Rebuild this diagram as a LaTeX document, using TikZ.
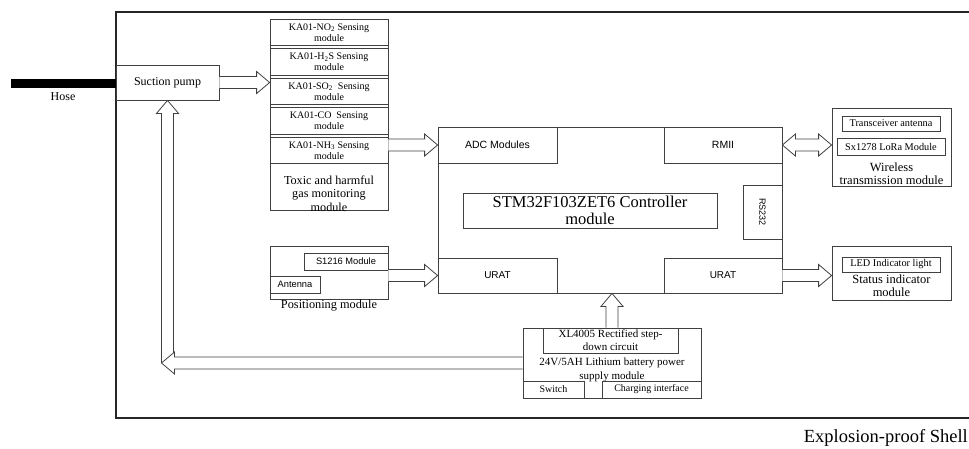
\documentclass[tikz,border=0pt]{standalone}
\usepackage{fontspec}
\setmainfont{Liberation Serif}
\setsansfont{Liberation Sans}
\usetikzlibrary{calc}

\tikzset{
  box/.style={draw=black!75, line width=0.8pt, inner sep=1pt, align=center},
  lbl/.style={inner sep=0pt, align=center},
  hollow/.style={draw=black!75, line width=0.8pt, fill=white, line join=miter},
  shell/.style={draw=black!85, line width=1.6pt},
}
% sizes of the hollow block arrows
\newcommand{\arrshaft}{6pt}
\newcommand{\arrwing}{11pt}
\newcommand{\arrhead}{13pt}
% hollow block arrow from #1 to #2
\newcommand{\blockarrow}[2]{%
  \coordinate (ba-s) at (#1);
  \coordinate (ba-e) at (#2);
  \coordinate (ba-b) at ($(ba-e)!\arrhead!(ba-s)$);
  \draw[hollow] ($(ba-s)!\arrshaft!90:(ba-e)$) -- ($(ba-b)!\arrshaft!90:(ba-e)$)
    -- ($(ba-b)!\arrwing!90:(ba-e)$) -- (ba-e)
    -- ($(ba-b)!\arrwing!-90:(ba-e)$) -- ($(ba-b)!\arrshaft!-90:(ba-e)$)
    -- ($(ba-s)!\arrshaft!-90:(ba-e)$);
}
% hollow block arrow with heads at both ends
\newcommand{\dblockarrow}[2]{%
  \coordinate (ba-s) at (#1);
  \coordinate (ba-e) at (#2);
  \coordinate (ba-b) at ($(ba-e)!\arrhead!(ba-s)$);
  \coordinate (ba-a) at ($(ba-s)!\arrhead!(ba-e)$);
  \draw[hollow] (ba-s) -- ($(ba-a)!\arrwing!90:(ba-e)$) -- ($(ba-a)!\arrshaft!90:(ba-e)$)
    -- ($(ba-b)!\arrshaft!90:(ba-e)$) -- ($(ba-b)!\arrwing!90:(ba-e)$) -- (ba-e)
    -- ($(ba-b)!\arrwing!-90:(ba-e)$) -- ($(ba-b)!\arrshaft!-90:(ba-e)$)
    -- ($(ba-a)!\arrshaft!-90:(ba-e)$) -- ($(ba-a)!\arrwing!-90:(ba-e)$) -- cycle;
}

\begin{document}
\begin{tikzpicture}[x=1pt,y=1pt,yscale=-1,xscale=1]
  \useasboundingbox (0,0) rectangle (969,448);

  %Explosion-proof shell
  \draw[shell] (969,12) -- (116,12) -- (116,418) -- (969,418);
  \node[lbl, anchor=east, font=\fontsize{18.5}{20}\selectfont] (shelllbl) at (968,438) {Explosion-proof Shell};

  %Hose and pump
  \node[fill=black, inner sep=0pt, minimum width=105, minimum height=9] (hose) at (63.5,83.5) {};
  \node[lbl, font=\fontsize{12}{14}\selectfont] (hoselbl) at (63,96.5) {Hose};
  \node[box, minimum width=103, minimum height=35, font=\fontsize{12}{14}\selectfont] (pump) at (167.5,82.5) {Suction pump};

  %Gas sensing group
  \node[box, minimum width=118, minimum height=191] (gas) at (329,114.5) {};
  \node[box, minimum width=118, minimum height=26.5, font=\fontsize{10}{11}\selectfont] (no2) at (329,32.25) {KA01-NO\textsubscript{2} Sensing\\module};
  \node[box, minimum width=118, minimum height=26.5, font=\fontsize{10}{11}\selectfont] (h2s) at (329,61.75) {KA01-H\textsubscript{2}S Sensing\\module};
  \node[box, minimum width=118, minimum height=26.5, font=\fontsize{10}{11}\selectfont] (so2) at (329,91.25) {KA01-SO\textsubscript{2}\ \ Sensing\\module};
  \node[box, minimum width=118, minimum height=26.5, font=\fontsize{10}{11}\selectfont] (co) at (329,120.75) {KA01-CO\ \ Sensing\\module};
  \node[box, minimum width=118, minimum height=26.5, font=\fontsize{10}{11}\selectfont] (nh3) at (329,150.25) {KA01-NH\textsubscript{3} Sensing\\module};
  \node[lbl, font=\fontsize{12.2}{13.5}\selectfont] (gaslbl) at (329,193.5) {Toxic and harmful\\gas monitoring\\module};

  %Controller
  \node[box, minimum width=344, minimum height=166] (ctrl) at (610,210) {};
  \node[box, minimum width=119, minimum height=36, font=\sffamily\fontsize{10.5}{12}\selectfont] (adc) at (497.5,145) {ADC Modules};
  \node[box, minimum width=118, minimum height=36, font=\sffamily\fontsize{10.5}{12}\selectfont] (rmii) at (723,145) {RMII};
  \node[box, minimum width=119, minimum height=35, font=\sffamily\fontsize{10}{12}\selectfont] (uratl) at (497.5,275.5) {URAT};
  \node[box, minimum width=118, minimum height=35, font=\sffamily\fontsize{10}{12}\selectfont] (uratr) at (723,275.5) {URAT};
  \node[box, minimum width=254, minimum height=35, font=\fontsize{16.5}{17}\selectfont] (stm) at (590,210.5) {STM32F103ZET6 Controller\\module};
  \node[box, rotate=-90, minimum width=54, minimum height=39, font=\sffamily\fontsize{9}{10}\selectfont] (rs) at (762.5,212) {RS232};

  %Wireless transmission
  \node[box, minimum width=119, minimum height=78] (wls) at (891.5,147) {};
  \node[box, minimum width=98, minimum height=15, font=\fontsize{10.3}{12}\selectfont] (ant) at (891,123.5) {Transceiver antenna};
  \node[box, minimum width=108, minimum height=17, font=\fontsize{10.3}{12}\selectfont] (lora) at (891,146.5) {Sx1278 LoRa Module};
  \node[lbl, font=\fontsize{12.5}{13}\selectfont] (wlslbl) at (891.5,173.5) {Wireless\\transmission module};

  %Status indicator
  \node[box, minimum width=119, minimum height=54] (sts) at (891.5,273) {};
  \node[box, minimum width=98, minimum height=15, font=\fontsize{10.3}{12}\selectfont] (led) at (891,264.5) {LED Indicator light};
  \node[lbl, font=\fontsize{12.5}{13}\selectfont] (stslbl) at (891.5,285.5) {Status indicator\\module};

  %Positioning
  \node[box, minimum width=118, minimum height=53] (pos) at (329,272.5) {};
  \node[box, minimum width=84, minimum height=17, font=\sffamily\fontsize{9.3}{11}\selectfont] (gps) at (346,261.5) {S1216 Module};
  \node[box, minimum width=50, minimum height=17, font=\sffamily\fontsize{9.3}{11}\selectfont] (gpsant) at (295,284.5) {Antenna};
  \node[lbl, font=\fontsize{12.3}{14}\selectfont] (poslbl) at (329,306) {Positioning module};

  %Power supply
  \node[box, minimum width=178, minimum height=70] (pwr) at (612,363) {};
  \node[box, minimum width=135, minimum height=25, font=\fontsize{11}{13}\selectfont] (xl) at (610.5,340.5) {XL4005 Rectified step-\\down circuit};
  \node[lbl, font=\fontsize{11}{13.5}\selectfont] (pwrlbl) at (612,370) {24V/5AH Lithium battery power\\supply module};
  \node[box, minimum width=61, minimum height=17, font=\fontsize{10}{12}\selectfont] (sw) at (553.5,389.5) {Switch};
  \node[box, minimum width=99, minimum height=17, font=\fontsize{10}{12}\selectfont] (chg) at (651.5,389.5) {Charging interface};

  %Block arrows
  \blockarrow{pump.east}{pump.east -| gas.west}
  \blockarrow{nh3.east |- adc.west}{adc.west}
  \dblockarrow{rmii.east}{rmii.east -| wls.west}
  \blockarrow{uratr.east}{uratr.east -| sts.west}
  \blockarrow{pos.east |- uratl.west}{uratl.west}
  \blockarrow{pwr.north}{pwr.north |- ctrl.south}
  \blockarrow{pump.south |- pwr.west}{pump.south}
  \coordinate (corner) at ($(pump.south |- pwr.west)+(-6,0)$);
  \blockarrow{pwr.west}{corner}
\end{tikzpicture}
\end{document}
